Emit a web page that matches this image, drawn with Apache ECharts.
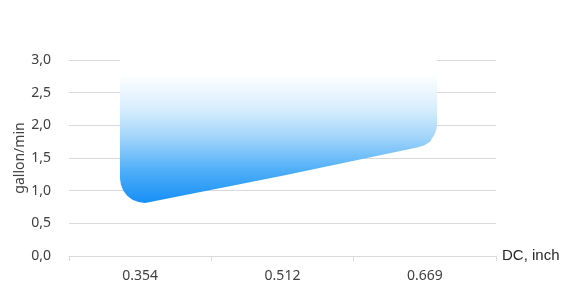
<!DOCTYPE html>
<html>
<head>
<meta charset="utf-8">
<script src="https://cdn.jsdelivr.net/npm/echarts@6/dist/echarts.min.js"></script>
<style>
html,body{margin:0;padding:0;background:#fff;}
#c{width:569px;height:287px;}
</style>
</head>
<body>
<div id="c"></div>
<script>
// Category tick labels
var categories = ['0.354', '0.512', '0.669'];
// Lower edge of the band: x in category-index units (0 = 0.354, 1 = 0.512, 2 = 0.669), y in gallon/min
var lowerX = [-0.142, -0.135, -0.118, -0.090, -0.054, -0.012, 0.034, 1.0, 1.945, 1.994, 2.036, 2.064, 2.081, 2.086];
var lowerY = [1.19, 1.09, 1.00, 0.92, 0.86, 0.825, 0.81, 1.23, 1.66, 1.69, 1.75, 1.85, 1.93, 2.02];
// Upper edge of the band (fades to white), right to left
var upperX = [2.086, 1.0, -0.142];
var upperY = [3.55, 3.35, 3.10];

var font = 'Noto Sans';
var chart = echarts.init(document.getElementById('c'));
chart.setOption({
  animation: false,
  grid: { left: 69, right: 73, top: 60, bottom: 31, containLabel: false },
  xAxis: [{
    type: 'category',
    data: categories,
    boundaryGap: true,
    name: 'DC, inch',
    nameLocation: 'end',
    nameGap: 6,
    nameTextStyle: { color: '#262626', fontSize: 15, fontFamily: 'Liberation Sans', verticalAlign: 'middle', padding: [10, 0, 0, 0] },
    axisLine: { lineStyle: { color: '#d9d9d9' } },
    axisTick: { show: true, length: 5, lineStyle: { color: '#d9d9d9' } },
    axisLabel: { color: '#404040', fontSize: 14, fontFamily: font, margin: 13 }
  }, {
    type: 'value',
    min: -0.5,
    max: 2.5,
    show: false
  }],
  yAxis: {
    type: 'value',
    min: 0,
    max: 3,
    interval: 0.5,
    name: 'gallon/min',
    nameLocation: 'middle',
    nameGap: 42,
    nameMoveOverlap: false,
    nameTextStyle: { color: '#404040', fontSize: 14, fontFamily: font },
    axisLine: { show: false },
    axisTick: { show: false },
    splitLine: { lineStyle: { color: '#d9d9d9' } },
    axisLabel: {
      color: '#404040', fontSize: 14, fontFamily: font, margin: 18,
      formatter: function (v) { return v.toFixed(1).replace('.', ','); }
    }
  },
  series: [{
    type: 'custom',
    xAxisIndex: 1,
    clip: false,
    silent: true,
    data: [[0, 0]],
    renderItem: function (params, api) {
      var pts = [];
      for (var i = 0; i < lowerX.length; i++) pts.push(api.coord([lowerX[i], lowerY[i]]));
      for (var j = 0; j < upperX.length; j++) pts.push(api.coord([upperX[j], upperY[j]]));
      return {
        type: 'polygon',
        shape: { points: pts },
        style: {
          fill: new echarts.graphic.LinearGradient(0, 0, 0, 1, [
            { offset: 0, color: '#ffffff' },
            { offset: 0.28, color: '#ffffff' },
            { offset: 0.48, color: '#d6edfd' },
            { offset: 0.63, color: '#a3d5fb' },
            { offset: 0.82, color: '#4eaef8' },
            { offset: 1, color: '#168ff6' }
          ]),
          stroke: null
        }
      };
    }
  }]
});
</script>
</body>
</html>
